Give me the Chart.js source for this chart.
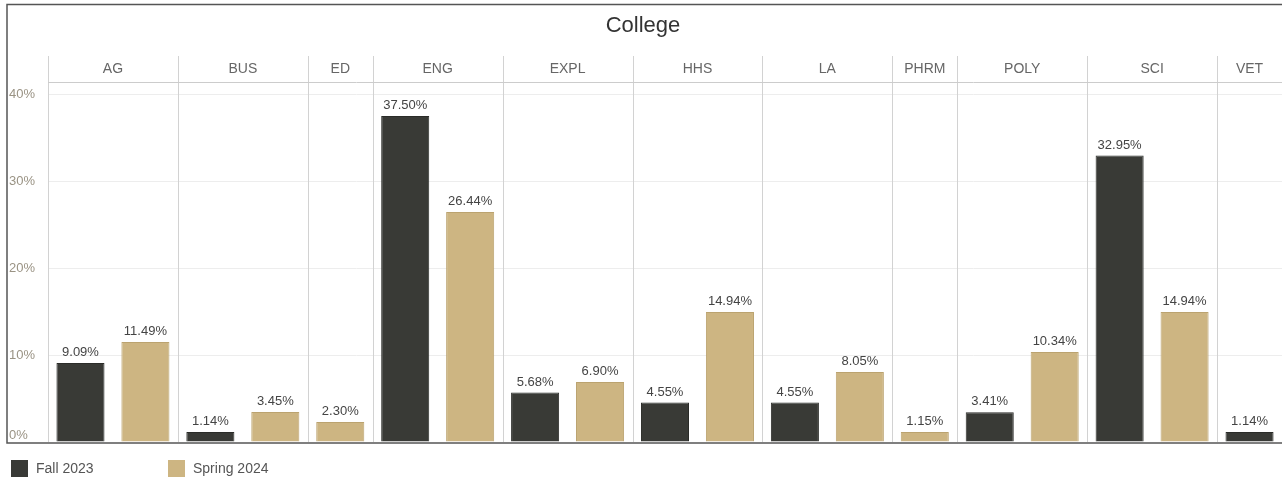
<!DOCTYPE html>
<html lang="en">
<head>
  <meta charset="UTF-8">
  <title>College</title>
  <script src="https://cdn.jsdelivr.net/npm/chart.js"></script>
  <style>
    html, body { margin: 0; padding: 0; background: #fff; overflow: hidden; }
    #wrap { width: 1282px; height: 479px; position: relative; }
  </style>
</head>
<body>
  <div id="wrap"><canvas id="collegeChart"></canvas></div>

  <script>
    // Share of students per college, by term
    var colleges = ['AG', 'BUS', 'ED', 'ENG', 'EXPL', 'HHS', 'LA', 'PHRM', 'POLY', 'SCI', 'VET'];
    var fall2023 = [9.09, 1.14, null, 37.50, 5.68, 4.55, 4.55, null, 3.41, 32.95, 1.14];
    var spring2024 = [11.49, 3.45, 2.30, 26.44, 6.90, 14.94, 8.05, 1.15, 10.34, 14.94, null];
    var seriesNames = ['Fall 2023', 'Spring 2024'];
    var seriesColors = ['#393a36', '#cdb582'];
    var yTicks = [0, 10, 20, 30, 40];

    var FONT = '"Liberation Sans", Arial, sans-serif';

    // one slot per bar that exists, grouped by college
    var slots = [];
    var fallData = [];
    var springData = [];
    var panels = [];
    colleges.forEach(function(c, i) {
      var first = slots.length;
      if (fall2023[i] !== null) {
        slots.push(c + ' ' + seriesNames[0]);
        fallData.push(fall2023[i]);
        springData.push(null);
      }
      if (spring2024[i] !== null) {
        slots.push(c + ' ' + seriesNames[1]);
        fallData.push(null);
        springData.push(spring2024[i]);
      }
      panels.push({ name: c, from: first, to: slots.length - 1 });
    });

    // Title, panel headers, dividers, frame, axis text, value labels and legend
    var tablePlugin = {
      id: 'tableLayout',
      beforeDatasetsDraw: function(chart) {
        var ctx = chart.ctx;
        var x = chart.scales.x;
        var area = chart.chartArea;
        var half = (x.getPixelForValue(1) - x.getPixelForValue(0)) / 2;
        ctx.save();
        // panel separators
        ctx.strokeStyle = '#d2d2d2';
        ctx.lineWidth = 1;
        panels.forEach(function(p) {
          var left = Math.round(x.getPixelForValue(p.from) - half) + 0.5;
          ctx.beginPath();
          ctx.moveTo(left, 56);
          ctx.lineTo(left, area.bottom);
          ctx.stroke();
        });
        // header bottom rule
        ctx.strokeStyle = '#cccccc';
        ctx.beginPath();
        ctx.moveTo(area.left, 82.5);
        ctx.lineTo(1282, 82.5);
        ctx.stroke();
        ctx.restore();
      },
      afterDatasetsDraw: function(chart) {
        var ctx = chart.ctx;
        var x = chart.scales.x;
        var y = chart.scales.y;
        var area = chart.chartArea;
        ctx.save();

        // value labels above bars
        ctx.font = '13px ' + FONT;
        ctx.fillStyle = '#444444';
        ctx.textAlign = 'center';
        ctx.textBaseline = 'bottom';
        chart.data.datasets.forEach(function(ds, di) {
          var meta = chart.getDatasetMeta(di);
          meta.data.forEach(function(bar, i) {
            var v = ds.data[i];
            if (v === null || v === undefined) return;
            ctx.fillText(v.toFixed(2) + '%', bar.x, bar.y - 4);
          });
        });

        // y tick labels, the bottom one kept above the base line
        ctx.textAlign = 'left';
        ctx.textBaseline = 'middle';
        ctx.fillStyle = '#9a9384';
        yTicks.forEach(function(v) {
          var py = y.getPixelForValue(v);
          if (v === 0) py -= 7;
          ctx.fillText(v + '%', 9, py);
        });

        // title
        ctx.textAlign = 'center';
        ctx.font = '22px ' + FONT;
        ctx.fillStyle = '#333333';
        ctx.fillText('College', 643, 26);

        // panel headers
        ctx.font = '14px ' + FONT;
        ctx.fillStyle = '#666666';
        panels.forEach(function(p) {
          var cx = (x.getPixelForValue(p.from) + x.getPixelForValue(p.to)) / 2;
          ctx.fillText(p.name, cx, 69);
        });

        // frame and base line
        ctx.strokeStyle = '#555555';
        ctx.lineWidth = 1.5;
        ctx.beginPath();
        ctx.moveTo(1282, 4.5);
        ctx.lineTo(7, 4.5);
        ctx.lineTo(7, area.bottom + 1);
        ctx.lineTo(1282, area.bottom + 1);
        ctx.stroke();

        // legend
        ctx.font = '14px ' + FONT;
        ctx.textAlign = 'left';
        var legendX = [11, 168];
        seriesNames.forEach(function(name, i) {
          ctx.fillStyle = seriesColors[i];
          ctx.fillRect(legendX[i], 460, 17, 17);
          ctx.fillStyle = '#555555';
          ctx.fillText(name, legendX[i] + 25, 469);
        });
        ctx.restore();
      }
    };

    new Chart(document.getElementById('collegeChart'), {
      type: 'bar',
      data: {
        labels: slots,
        datasets: [
          {
            label: seriesNames[0],
            data: fallData,
            backgroundColor: seriesColors[0],
            borderColor: '#2b2c29',
            borderWidth: 1
          },
          {
            label: seriesNames[1],
            data: springData,
            backgroundColor: seriesColors[1],
            borderColor: '#bba36f',
            borderWidth: 1
          }
        ]
      },
      options: {
        responsive: true,
        maintainAspectRatio: false,
        animation: false,
        layout: { padding: { left: 8, right: 0, top: 82, bottom: 37 } },
        datasets: {
          bar: { grouped: false, categoryPercentage: 1, barPercentage: 0.74 }
        },
        plugins: {
          legend: { display: false },
          tooltip: { enabled: false }
        },
        scales: {
          x: { display: false },
          y: {
            min: 0,
            max: 41.4,
            afterFit: function(scale) { scale.width = 40; },
            afterBuildTicks: function(scale) {
              scale.ticks = yTicks.map(function(v) { return { value: v }; });
            },
            border: { display: false },
            grid: {
              color: function(c) { return c.tick.value === 0 ? 'rgba(0,0,0,0)' : '#ededed'; },
              drawTicks: false
            },
            ticks: { display: false }
          }
        }
      },
      plugins: [tablePlugin]
    });
  </script>
</body>
</html>
